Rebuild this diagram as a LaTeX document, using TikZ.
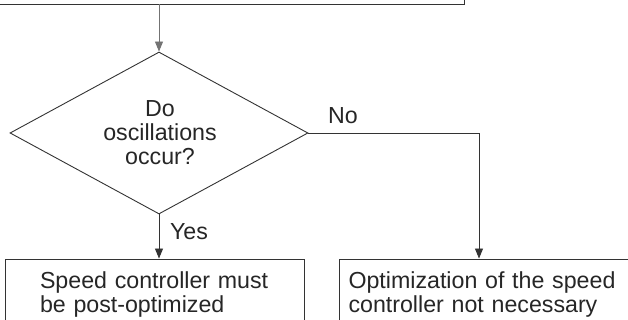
\documentclass[tikz,border=0pt]{standalone}
\usepackage{fontspec}
\setmainfont{Liberation Sans}
\usetikzlibrary{shapes.geometric,arrows.meta,calc}
\newcommand\myfs{\fontsize{23.2}{24}\selectfont}
\begin{document}
\begin{tikzpicture}[x=1pt,y=1pt,
  line/.style={draw=black!80, line width=0.9pt},
  arr/.style={line, -{Triangle[length=10pt,width=8pt]}},
  box/.style={line, minimum width=299pt, minimum height=71pt, align=left, inner ysep=0pt, font=\myfs, text=black!85},
  dia/.style={diamond, line, aspect=1.84, minimum width=298pt, minimum height=162pt, inner sep=0pt},
  lbl/.style={font=\myfs, text=black!85, inner sep=0pt}]
\useasboundingbox (0,0) rectangle (628,320);
\clip (0,0) rectangle (628,320);
\node[line, minimum width=480pt, minimum height=48pt, inner sep=0pt] (top) at (224,340) {};
\node[dia] (q) at (159,187) {};
\node[lbl, align=center, text width=140pt] (qt) at (160,187) {Do\\oscillations\\occur?};
\node[box, inner xsep=35pt, text width=229pt] (lb) at (154.5,25.5) {Speed controller must\\be post-optimized};
\node[box, inner xsep=9pt, text width=281pt] (rb) at (489,25.5) {Optimization of the speed\\controller not necessary};
\coordinate (nc) at (479,187);
\draw[arr, draw=black!55] (top.south -| q.north) -- (q.north);
\draw[arr] (q.south) -- (q.south |- lb.north);
\draw[arr] (q.east) -- (nc) -- (nc |- rb.north);
\node[lbl] (no) at (343,204) {No};
\node[lbl] (yes) at (189,88) {Yes};
\end{tikzpicture}
\end{document}
